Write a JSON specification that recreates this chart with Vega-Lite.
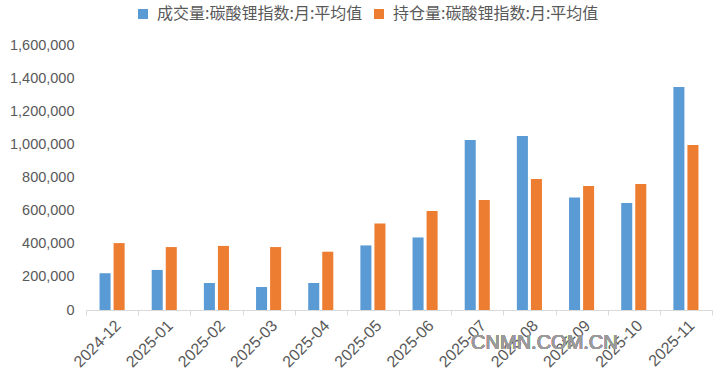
{
  "$schema": "https://vega.github.io/schema/vega-lite/v6.json",
  "width": 626,
  "height": 265,
  "autosize": {"type": "none"},
  "padding": {"left": 86, "top": 45, "right": 8, "bottom": 71},
  "background": "white",
  "config": {"view": {"stroke": null}, "font": "Liberation Sans"},
  "data": {
    "values": [
      {"month": "2024-12", "series": "成交量:碳酸锂指数:月:平均值", "value": 222000},
      {"month": "2024-12", "series": "持仓量:碳酸锂指数:月:平均值", "value": 404000},
      {"month": "2025-01", "series": "成交量:碳酸锂指数:月:平均值", "value": 242000},
      {"month": "2025-01", "series": "持仓量:碳酸锂指数:月:平均值", "value": 380000},
      {"month": "2025-02", "series": "成交量:碳酸锂指数:月:平均值", "value": 163000},
      {"month": "2025-02", "series": "持仓量:碳酸锂指数:月:平均值", "value": 387000},
      {"month": "2025-03", "series": "成交量:碳酸锂指数:月:平均值", "value": 139000},
      {"month": "2025-03", "series": "持仓量:碳酸锂指数:月:平均值", "value": 380000},
      {"month": "2025-04", "series": "成交量:碳酸锂指数:月:平均值", "value": 163000},
      {"month": "2025-04", "series": "持仓量:碳酸锂指数:月:平均值", "value": 352000},
      {"month": "2025-05", "series": "成交量:碳酸锂指数:月:平均值", "value": 390000},
      {"month": "2025-05", "series": "持仓量:碳酸锂指数:月:平均值", "value": 523000},
      {"month": "2025-06", "series": "成交量:碳酸锂指数:月:平均值", "value": 438000},
      {"month": "2025-06", "series": "持仓量:碳酸锂指数:月:平均值", "value": 598000},
      {"month": "2025-07", "series": "成交量:碳酸锂指数:月:平均值", "value": 1027000},
      {"month": "2025-07", "series": "持仓量:碳酸锂指数:月:平均值", "value": 664000},
      {"month": "2025-08", "series": "成交量:碳酸锂指数:月:平均值", "value": 1051000},
      {"month": "2025-08", "series": "持仓量:碳酸锂指数:月:平均值", "value": 791000},
      {"month": "2025-09", "series": "成交量:碳酸锂指数:月:平均值", "value": 680000},
      {"month": "2025-09", "series": "持仓量:碳酸锂指数:月:平均值", "value": 749000},
      {"month": "2025-10", "series": "成交量:碳酸锂指数:月:平均值", "value": 646000},
      {"month": "2025-10", "series": "持仓量:碳酸锂指数:月:平均值", "value": 761000},
      {"month": "2025-11", "series": "成交量:碳酸锂指数:月:平均值", "value": 1347000},
      {"month": "2025-11", "series": "持仓量:碳酸锂指数:月:平均值", "value": 996000}
    ]
  },
  "layer": [
    {
      "mark": {"type": "bar"},
      "encoding": {
        "x": {
          "field": "month",
          "type": "nominal",
          "sort": null,
          "scale": {"paddingInner": 0, "paddingOuter": 0},
          "axis": {
            "title": null,
            "labelAngle": -45,
            "tickBand": "extent",
            "domainColor": "#D9D9D9",
            "tickColor": "#D9D9D9",
            "tickSize": 5,
            "labelColor": "#595959",
            "labelFontSize": 16,
            "labelPadding": 2
          }
        },
        "xOffset": {
          "field": "series",
          "sort": null,
          "scale": {"paddingInner": 0.214, "paddingOuter": 0.964}
        },
        "y": {
          "field": "value",
          "type": "quantitative",
          "scale": {"domain": [0, 1600000], "nice": false},
          "axis": {
            "title": null,
            "values": [0, 200000, 400000, 600000, 800000, 1000000, 1200000, 1400000, 1600000],
            "format": ",.0f",
            "grid": false,
            "domain": false,
            "ticks": false,
            "labelOverlap": false,
            "labelPadding": 12,
            "labelColor": "#595959",
            "labelFontSize": 14.5
          }
        },
        "color": {
          "field": "series",
          "type": "nominal",
          "scale": {
            "domain": ["成交量:碳酸锂指数:月:平均值", "持仓量:碳酸锂指数:月:平均值"],
            "range": ["#5B9BD5", "#ED7D31"]
          },
          "legend": {
            "title": null,
            "orient": "none",
            "legendX": 49,
            "legendY": -39,
            "direction": "horizontal",
            "symbolType": "square",
            "symbolSize": 100,
            "symbolStrokeWidth": 0,
            "labelFont": "Noto Sans CJK SC",
            "labelFontSize": 16,
            "labelColor": "#595959",
            "labelOffset": 6,
            "columnPadding": 8,
            "labelLimit": 400
          }
        }
      }
    },
    {
      "mark": {
        "type": "text",
        "text": "CNMN.COM.CN",
        "font": "Liberation Sans",
        "fontSize": 20,
        "fill": "#9A9A9A",
        "opacity": 0.75,
        "align": "center",
        "baseline": "middle",
        "dx": 15,
        "clip": false
      },
      "encoding": {
        "x": {
          "datum": "2025-08",
          "type": "nominal",
          "axis": {
            "title": null,
            "labelAngle": -45,
            "tickBand": "extent",
            "domainColor": "#D9D9D9",
            "tickColor": "#D9D9D9",
            "tickSize": 5,
            "labelColor": "#595959",
            "labelFontSize": 16,
            "labelPadding": 2
          }
        },
        "y": {
          "datum": -199000,
          "type": "quantitative",
          "axis": {
            "title": null,
            "values": [0, 200000, 400000, 600000, 800000, 1000000, 1200000, 1400000, 1600000],
            "format": ",.0f",
            "grid": false,
            "domain": false,
            "ticks": false,
            "labelOverlap": false,
            "labelPadding": 12,
            "labelColor": "#595959",
            "labelFontSize": 14.5
          }
        }
      }
    }
  ]
}
